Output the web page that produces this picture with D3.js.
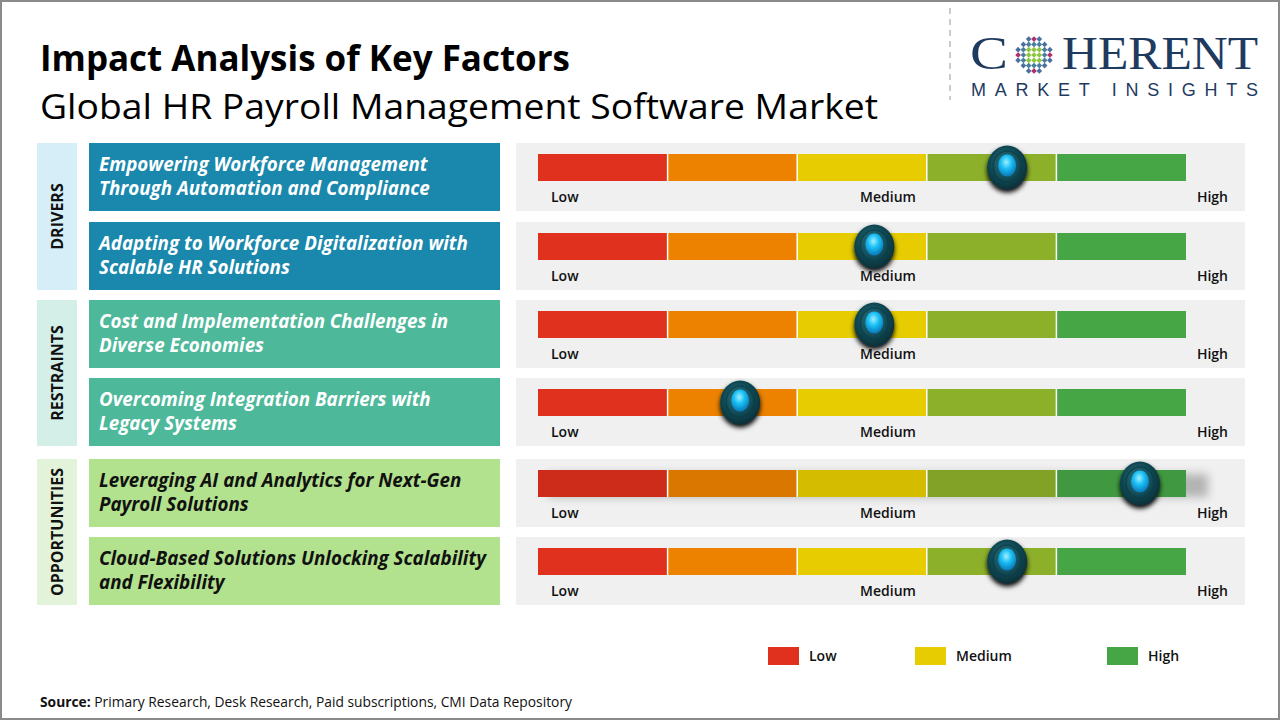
<!DOCTYPE html>
<html><head><meta charset="utf-8">
<script src="https://cdn.jsdelivr.net/npm/d3@7"></script>
<style>
html,body{margin:0;padding:0;background:#fff;}
svg{display:block;font-family:"Open Sans",sans-serif;}
</style></head>
<body><svg id="c" width="1280" height="720"></svg>
<script>
const groups = ["DRIVERS","RESTRAINTS","OPPORTUNITIES"];
const factors = [
  ["Empowering Workforce Management","Through Automation and Compliance"],
  ["Adapting to Workforce Digitalization with","Scalable HR Solutions"],
  ["Cost and Implementation Challenges in","Diverse Economies"],
  ["Overcoming Integration Barriers with","Legacy Systems"],
  ["Leveraging AI and Analytics for Next-Gen","Payroll Solutions"],
  ["Cloud-Based Solutions Unlocking Scalability","and Flexibility"]
];
const factorGroup = [0,0,1,1,2,2];
const impact = [72.4, 51.9, 51.9, 31.2, 92.9, 72.4];
const segmentColors = ["#e0301e","#ec8200","#e6cc00","#8db02a","#46a646"];
const scaleLabels = ["Low","Medium","High"];
const legendLabels = ["Low","Medium","High"];
const legendColors = ["#e0301e","#e6cc00","#46a646"];

const svg = d3.select("#c");
const defs = svg.append("defs");

// border
svg.append("rect").attr("x",1).attr("y",1).attr("width",1278).attr("height",718)
  .attr("fill","none").attr("stroke","#8a8a8a").attr("stroke-width",2);

// title
svg.append("text").attr("x",40).attr("y",71).attr("font-size",35).attr("font-weight",700)
  .attr("fill","#000").attr("textLength",530).attr("lengthAdjust","spacingAndGlyphs")
  .text("Impact Analysis of Key Factors");
svg.append("text").attr("x",40).attr("y",119).attr("font-size",35)
  .attr("fill","#000").attr("textLength",838).attr("lengthAdjust","spacingAndGlyphs")
  .text("Global HR Payroll Management Software Market");

// logo
svg.append("line").attr("x1",950).attr("x2",950).attr("y1",8).attr("y2",100)
  .attr("stroke","#bbb").attr("stroke-width",1.5).attr("stroke-dasharray","6,5");
const navy = "#1f3a5f";
svg.append("text").attr("x",970).attr("y",69).attr("font-family","'Liberation Serif',serif")
  .attr("font-size",46).attr("fill",navy).attr("textLength",38).attr("lengthAdjust","spacingAndGlyphs").text("C");
svg.append("text").attr("x",1062).attr("y",69).attr("font-family","'Liberation Serif',serif")
  .attr("font-size",46).attr("fill",navy).attr("textLength",196).attr("lengthAdjust","spacingAndGlyphs").text("HERENT");
// globe dots
const gcx=1034, gcy=55;
for (let i=-3;i<=3;i++){ for(let j=-3;j<=3;j++){
  const d = Math.sqrt(i*i+j*j);
  if (d>3.3) continue;
  let col = d<1.6 ? "#8dc63f" : (d<2.6 ? "#4a7fa0" : "#b0306a");
  if (d>=2.6 && (i+j)%2===0) col="#4a6fa0";
  svg.append("rect").attr("x",gcx+i*5.3-2).attr("y",gcy+j*5.3-2).attr("width",4).attr("height",4)
    .attr("transform",`rotate(45 ${gcx+i*5.3} ${gcy+j*5.3})`).attr("fill",col);
}}
svg.append("text").attr("x",971).attr("y",96).attr("font-family","'Liberation Sans',sans-serif")
  .attr("font-size",18).attr("fill",navy).attr("textLength",287).attr("lengthAdjust","spacing")
  .text("MARKET INSIGHTS");

// rows
const rowTops = [143,222,300,378,459,537];
const rowH = 68;
const groupBg = ["#d6eef8","#d3efe7","#e3f3d9"];
const groupFill = ["#1a88ac","#4db89a","#b3e28e"];
const groupText = ["#fff","#fff","#111"];
const groupSpan = [[143,290],[300,446],[459,605]];

groupSpan.forEach((s,i)=>{
  svg.append("rect").attr("x",37).attr("y",s[0]).attr("width",40).attr("height",s[1]-s[0]).attr("fill",groupBg[i]);
  const cy=(s[0]+s[1])/2;
  svg.append("text").attr("transform",`translate(63,${cy}) rotate(-90)`).attr("text-anchor","middle")
    .attr("font-size",16).attr("font-weight",700).attr("fill","#111").text(groups[i]);
});

const x = d3.scaleLinear().domain([0,100]).range([538,1186]);
const segScale = d3.scaleBand().domain(d3.range(segmentColors.length)).range([538,1186]).paddingInner(0);

// gradients for knob
const og = defs.append("radialGradient").attr("id","outer").attr("cx","45%").attr("cy","40%").attr("r","60%");
og.append("stop").attr("offset","0%").attr("stop-color","#2c7a86");
og.append("stop").attr("offset","60%").attr("stop-color","#114a55");
og.append("stop").attr("offset","100%").attr("stop-color","#0a3038");
const ig = defs.append("radialGradient").attr("id","inner").attr("cx","45%").attr("cy","35%").attr("r","65%");
ig.append("stop").attr("offset","0%").attr("stop-color","#9ff0ff");
ig.append("stop").attr("offset","45%").attr("stop-color","#1cc0f5");
ig.append("stop").attr("offset","100%").attr("stop-color","#0778b8");
const sh = defs.append("filter").attr("id","sh").attr("x","-50%").attr("y","-50%").attr("width","200%").attr("height","200%");
sh.append("feGaussianBlur").attr("in","SourceAlpha").attr("stdDeviation",2.5);
sh.append("feOffset").attr("dx",0).attr("dy",3).attr("result","b");
const fm = sh.append("feMerge"); fm.append("feMergeNode").attr("in","b"); fm.append("feMergeNode").attr("in","SourceGraphic");
const blur = defs.append("filter").attr("id","blur").attr("x","-10%").attr("y","-50%").attr("width","120%").attr("height","200%");
blur.append("feGaussianBlur").attr("stdDeviation",5);

factors.forEach((lines,r)=>{
  const y0 = rowTops[r], g = factorGroup[r];
  svg.append("rect").attr("x",89).attr("y",y0).attr("width",411).attr("height",rowH).attr("fill",groupFill[g]);
  lines.forEach((t,k)=>{
    svg.append("text").attr("x",99).attr("y",y0+28+k*24).attr("font-size",18.8).attr("font-weight",700)
      .attr("font-style","italic").attr("fill",groupText[g]).text(t);
  });
  // gauge panel
  svg.append("rect").attr("x",516).attr("y",y0).attr("width",729).attr("height",rowH).attr("fill","#f0f0f0");
  const by = y0+11, bh = 27;
  if (r===4) {
    svg.append("rect").attr("x",548).attr("y",by+4).attr("width",660).attr("height",bh-4)
      .attr("fill","#000").attr("opacity",0.25).attr("filter","url(#blur)");
  }
  segmentColors.forEach((c,i)=>{
    svg.append("rect").attr("x",segScale(i)).attr("y",by).attr("width",segScale.bandwidth()).attr("height",bh).attr("fill",c);
  });
  if (r===4) {
    svg.append("rect").attr("x",538).attr("y",by).attr("width",648).attr("height",bh)
      .attr("fill","#000").attr("opacity",0.08);
  }
  segmentColors.slice(1).forEach((c,i)=>{
    svg.append("line").attr("x1",segScale(i+1)).attr("x2",segScale(i+1)).attr("y1",by).attr("y2",by+bh)
      .attr("stroke","#fff").attr("stroke-width",1.5);
  });
  const ly = y0+59;
  svg.append("text").attr("x",551).attr("y",ly).attr("font-size",14).attr("font-weight",600).attr("fill","#111").text(scaleLabels[0]);
  svg.append("text").attr("x",888).attr("y",ly).attr("text-anchor","middle").attr("font-size",14).attr("font-weight",600).attr("fill","#111").text(scaleLabels[1]);
  svg.append("text").attr("x",1228).attr("y",ly).attr("text-anchor","end").attr("font-size",14).attr("font-weight",600).attr("fill","#111").text(scaleLabels[2]);
  // knob
  const kx = x(impact[r]), ky = by+bh/2;
  const kg = svg.append("g").attr("filter","url(#sh)");
  kg.append("ellipse").attr("cx",kx).attr("cy",ky).attr("rx",20).attr("ry",22).attr("fill","url(#outer)");
  kg.append("ellipse").attr("cx",kx).attr("cy",ky-1).attr("rx",14).attr("ry",15.5).attr("fill","none")
    .attr("stroke","#0a3a44").attr("stroke-width",1.5).attr("opacity",0.6);
  kg.append("ellipse").attr("cx",kx).attr("cy",ky-2).attr("rx",9).attr("ry",11).attr("fill","url(#inner)");
});

// legend
const lx = [768,915,1107];
legendLabels.forEach((l,i)=>{
  svg.append("rect").attr("x",lx[i]).attr("y",647).attr("width",31).attr("height",18).attr("fill",legendColors[i]);
  svg.append("text").attr("x",lx[i]+41).attr("y",661).attr("font-size",14).attr("font-weight",600).attr("fill","#111").text(l);
});

// source
const src = svg.append("text").attr("x",40).attr("y",707).attr("font-size",13.8).attr("fill","#111")
  .attr("textLength",532).attr("lengthAdjust","spacingAndGlyphs");
src.append("tspan").attr("font-weight",700).text("Source:");
src.append("tspan").text(" Primary Research, Desk Research, Paid subscriptions, CMI Data Repository");
</script></body></html>
